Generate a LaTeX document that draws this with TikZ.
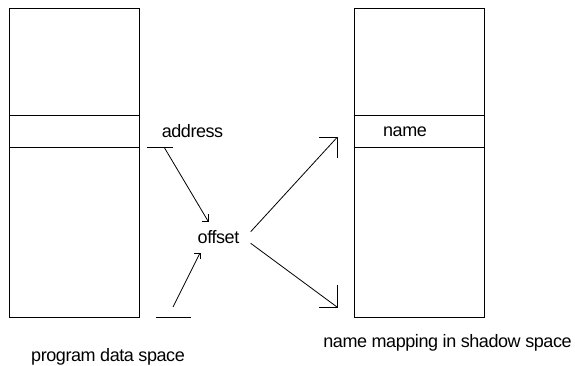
\documentclass[tikz,border=0pt]{standalone}
\usepackage{fontspec}
\setmainfont{Liberation Sans}[LetterSpace=-2.4]
\begin{document}
\begin{tikzpicture}[x=1pt,y=1pt,
  lbl/.style={anchor=base,inner sep=0pt,font=\fontsize{18}{20}\selectfont},
  boxln/.style={line width=1pt},
  conn/.style={line width=0.8pt}]
\useasboundingbox (0,0) rectangle (575,365);
% boxes
\node[boxln,draw,anchor=south west,minimum width=130pt,minimum height=309pt,inner sep=0pt] (pbox) at (9,47) {};
\node[boxln,draw,anchor=south west,minimum width=130pt,minimum height=309pt,inner sep=0pt] (sbox) at (354,47) {};
\draw[boxln] (pbox.west |- 0,250) -- (pbox.east |- 0,250);
\draw[boxln] (pbox.west |- 0,218) -- (pbox.east |- 0,218);
\draw[boxln] (sbox.west |- 0,250) -- (sbox.east |- 0,250);
\draw[boxln] (sbox.west |- 0,218) -- (sbox.east |- 0,218);
% labels
\node[lbl] (addr) at (192.5,228) {address};
\node[lbl] (off) at (218.5,122) {offset};
\node[lbl] (nm) at (405,229) {name};
\node[lbl] (pds) at (108,4) {program data space};
\node[lbl] (nms) at (447.5,18) {name mapping in shadow space};
% coordinates
\coordinate (a1) at (147,218); \coordinate (a2) at (173,218);
\coordinate (as) at (164,218); \coordinate (at) at (208,144);
\coordinate (b1) at (156,47.5); \coordinate (b2) at (191,47.5);
\coordinate (bs) at (173,58); \coordinate (bt) at (200,112);
\coordinate (us) at (250.7,133.3); \coordinate (ut) at (337,227.5);
\coordinate (ls) at (250.7,121.7); \coordinate (lt) at (337,58);
% connectors
\draw[conn] (a1) -- (a2);
\draw[conn] (as) -- (at);
\draw[conn] (at) ++(-6,0) -- (at) -- ++(0,7);
\draw[conn] (b1) -- (b2);
\draw[conn] (bs) -- (bt);
\draw[conn] (bt) ++(-6,0) -- (bt) -- ++(0,-6);
\draw[conn] (us) -- (ut);
\draw[conn] (ut) ++(-18,0) -- (ut) -- ++(0,-20);
\draw[conn] (ls) -- (lt);
\draw[conn] (lt) ++(-18,0) -- (lt) -- ++(0,22);
\end{tikzpicture}
\end{document}
